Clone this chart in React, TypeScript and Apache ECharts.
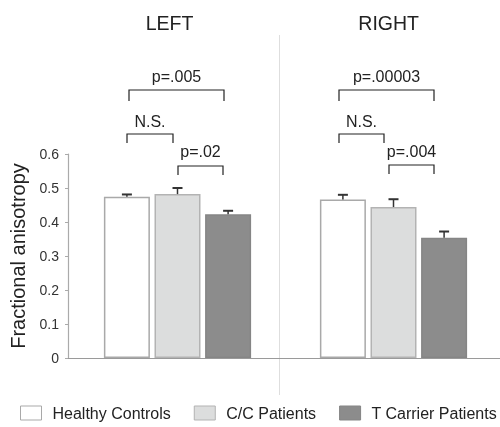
import React, { useEffect, useRef } from "react";
import * as echarts from "echarts";

const panels = ["LEFT", "RIGHT"];
const seriesNames = ["Healthy Controls", "C/C Patients", "T Carrier Patients"];
const healthyValues = [0.474, 0.466];
const healthyErrors = [0.007, 0.014];
const ccValues = [0.482, 0.444];
const ccErrors = [0.018, 0.023];
const tCarrierValues = [0.423, 0.354];
const tCarrierErrors = [0.01, 0.018];
const yMin = 0;
const yMax = 0.6;
const yInterval = 0.1;
const leftPLabels = ["p=.005", "N.S.", "p=.02"];
const rightPLabels = ["p=.00003", "N.S.", "p=.004"];

const FONT = '"Liberation Sans", Arial, Helvetica, sans-serif';
const BAR_W = 46;
const BAR_GAP = 0.1;
const fills = ["#ffffff", "#dcdddd", "#8c8c8c"];
const borders = ["#a9a9a9", "#b3b3b3", "#858585"];

export default function App() {
  const ref = useRef<HTMLDivElement>(null);
  useEffect(() => {
    if (!ref.current) return;
    const chart = echarts.init(ref.current, null, { renderer: "svg" });
    const values = [healthyValues, ccValues, tCarrierValues];
    const errors = [healthyErrors, ccErrors, tCarrierErrors];

    const barSeries: any[] = [];
    panels.forEach((_, p) => {
      seriesNames.forEach((name, i) => {
        barSeries.push({
          type: "bar",
          name,
          xAxisIndex: p,
          yAxisIndex: p,
          barWidth: BAR_W,
          barGap: `${BAR_GAP * 100}%`,
          data: [values[i][p]],
          itemStyle: { color: fills[i], borderColor: borders[i], borderWidth: 1.5 },
          z: 2,
        });
      });
    });
    const errSeries = panels.map((_, p) => ({
      type: "custom",
      xAxisIndex: p,
      yAxisIndex: p,
      z: 5,
      silent: true,
      encode: { x: 0, y: 1 },
      data: seriesNames.map((_, i) => [0, values[i][p], errors[i][p], i]),
      renderItem: (params: any, api: any) => {
        const idx = api.value(3);
        const base = api.coord([api.value(0), api.value(1)]);
        const top = api.coord([api.value(0), api.value(1) + api.value(2)]);
        const x = base[0] + (idx - 1) * (BAR_W * (1 + BAR_GAP));
        return {
          type: "group",
          children: [
            { type: "line", shape: { x1: x, y1: base[1], x2: x, y2: top[1] }, style: { stroke: "#333", lineWidth: 1.5 } },
            { type: "line", shape: { x1: x - 5, y1: top[1], x2: x + 5, y2: top[1] }, style: { stroke: "#333", lineWidth: 2 } },
          ],
        };
      },
    }));

    const bracket = (x1: number, x2: number, y: number, leg: number, label: string, ty: number) => [
      {
        type: "polyline",
        shape: { points: [[x1, y + leg], [x1, y], [x2, y], [x2, y + leg]] },
        style: { stroke: "#222", lineWidth: 1.2, fill: "none" },
      },
      {
        type: "text",
        x: (x1 + x2) / 2,
        y: ty,
        style: { text: label, font: `16px ${FONT}`, fill: "#222", textAlign: "center", textVerticalAlign: "middle" },
      },
    ];

    const graphics: any[] = [
      { type: "line", shape: { x1: 279.5, y1: 35, x2: 279.5, y2: 395 }, style: { stroke: "#dedede", lineWidth: 1 } },
      { type: "text", x: 169.5, y: 22.5, style: { text: panels[0], font: `19.5px ${FONT}`, fill: "#222", textAlign: "center", textVerticalAlign: "middle" } },
      { type: "text", x: 388.7, y: 22.5, style: { text: panels[1], font: `19.5px ${FONT}`, fill: "#222", textAlign: "center", textVerticalAlign: "middle" } },
      ...bracket(129, 224, 90, 11, leftPLabels[0], 76.2),
      ...bracket(127, 173, 134, 9, leftPLabels[1], 121.8),
      ...bracket(178, 223, 166, 9, leftPLabels[2], 151.8),
      ...bracket(339, 434, 90, 11, rightPLabels[0], 76.2),
      ...bracket(339, 384, 134, 9, rightPLabels[1], 121.8),
      ...bracket(389, 434, 165, 9, rightPLabels[2], 151.8),
    ];

    chart.setOption({
      animation: false,
      textStyle: { fontFamily: FONT },
      grid: [
        { left: 68, width: 219, top: 154, height: 204 },
        { left: 287, width: 213, top: 154, height: 204 },
      ],
      xAxis: panels.map((name, p) => ({
        type: "category",
        gridIndex: p,
        data: [name],
        axisLine: { show: true, lineStyle: { color: "#9a9a9a", width: 1.2 } },
        axisTick: { show: false },
        axisLabel: { show: false },
      })),
      yAxis: panels.map((_, p) => ({
        type: "value",
        gridIndex: p,
        min: yMin,
        max: yMax,
        interval: yInterval,
        show: p === 0,
        name: p === 0 ? "Fractional anisotropy" : "",
        nameLocation: "middle",
        nameGap: 40,
        nameTextStyle: { fontSize: 20, color: "#222", fontFamily: FONT },
        axisLine: { show: true, lineStyle: { color: "#aaaaaa", width: 1.2 } },
        axisTick: { show: true, length: 3, lineStyle: { color: "#aaaaaa" } },
        axisLabel: { fontSize: 14, color: "#333", margin: 9, fontFamily: FONT },
        splitLine: { show: false },
      })),
      legend: {
        left: 20,
        top: 405,
        width: 480,
        padding: 0,
        icon: "rect",
        itemWidth: 21,
        itemHeight: 14,
        itemGap: 23,
        selectedMode: false,
        data: seriesNames,
        itemStyle: { borderWidth: 1 },
        textStyle: { fontSize: 16, color: "#222", fontFamily: FONT, padding: [0, 0, 0, 6] },
      },
      series: [...barSeries, ...errSeries],
      graphic: graphics,
    });
    return () => chart.dispose();
  }, []);
  return <div ref={ref} style={{ position: "fixed", left: 0, top: 0, width: 500, height: 427 }} />;
}
